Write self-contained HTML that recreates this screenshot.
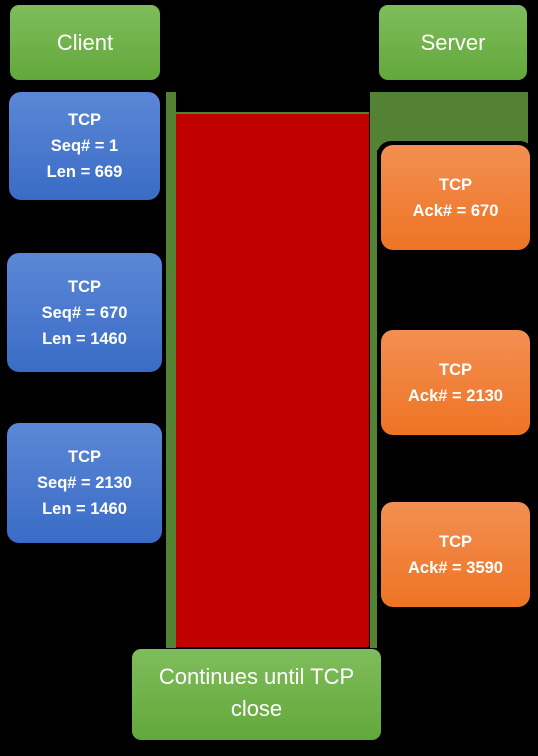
<!DOCTYPE html>
<html><head><meta charset="utf-8"><style>
body{margin:0;width:538px;height:756px;background:#000;position:relative;overflow:hidden;font-family:"Liberation Sans",sans-serif;color:#fff}
div{position:absolute;box-sizing:border-box}
.g{background:linear-gradient(#7fbd5c,#62a83b);border-radius:9px;display:flex;align-items:center;justify-content:center;text-align:center;font-size:22px}
.b{background:linear-gradient(#5b87d6,#3a6cc6);border-radius:12px;display:flex;align-items:center;justify-content:center;text-align:center;font-weight:bold;font-size:16.5px;line-height:26px}
.o{background:linear-gradient(#f28f52,#ef7424);border-radius:12px;display:flex;align-items:center;justify-content:center;text-align:center;font-weight:bold;font-size:16.5px;line-height:26px}
</style></head><body>
<div style="left:166px;top:92px;width:10px;height:556px;background:#548235"></div>
<div style="left:370px;top:92px;width:7px;height:556px;background:#548235"></div>
<div style="left:370px;top:92px;width:158px;height:58px;background:#548235"></div>
<div style="left:176px;top:112px;width:193px;height:535px;background:#c00000;border-top:2px solid #548235"></div>
<div class="g" style="left:10px;top:5px;width:150px;height:75px">Client</div>
<div class="g" style="left:379px;top:5px;width:148px;height:75px">Server</div>
<div class="b" style="left:9px;top:92px;width:151px;height:108px">TCP<br>Seq# = 1<br>Len = 669</div>
<div class="b" style="left:7px;top:253px;width:155px;height:119px">TCP<br>Seq# = 670<br>Len = 1460</div>
<div class="b" style="left:7px;top:423px;width:155px;height:120px">TCP<br>Seq# = 2130<br>Len = 1460</div>
<div style="left:377px;top:141px;width:157px;height:113px;background:#000;border-radius:14px"></div>
<div class="o" style="left:381px;top:145px;width:149px;height:105px">TCP<br>Ack# = 670</div>
<div class="o" style="left:381px;top:330px;width:149px;height:105px">TCP<br>Ack# = 2130</div>
<div class="o" style="left:381px;top:502px;width:149px;height:105px">TCP<br>Ack# = 3590</div>
<div class="g" style="left:132px;top:649px;width:249px;height:91px;line-height:32px;padding-bottom:4px">Continues until TCP<br>close</div>
</body></html>
